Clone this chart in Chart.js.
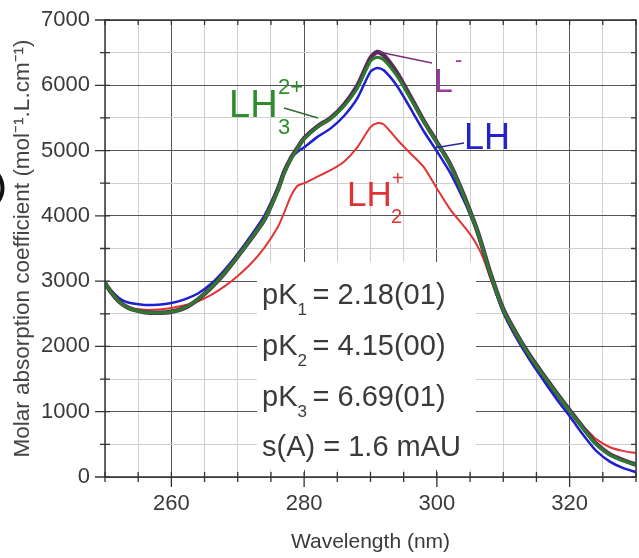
<!DOCTYPE html>
<html>
<head>
<meta charset="utf-8">
<script src="https://cdn.jsdelivr.net/npm/chart.js@4/dist/chart.umd.min.js"></script>
<style>
  html, body { margin: 0; padding: 0; background: #fff; }
  #chart { display: block; }
</style>
</head>
<body>
<canvas id="chart" width="639" height="558"></canvas>
<script>
// wavelength (nm)
const wavelengths = [250, 251, 252, 253, 254, 256, 258, 260, 262, 264, 266, 268, 270, 272, 274, 276, 277, 278, 279, 280,
    282, 284, 286, 288, 290, 291, 292, 294, 296, 298, 300, 302, 304, 305, 306, 307, 308, 310, 312, 314,
    316, 318, 320, 321, 322, 323, 324, 326, 328, 330];

// molar absorption coefficient of each species
const lh3Values = [2970, 2820, 2700, 2620, 2570, 2525, 2515, 2530, 2590, 2720, 2900, 3120, 3380, 3650, 3940, 4380, 4660, 4870, 5030, 5180,
    5360, 5490, 5680, 5950, 6370, 6430, 6390, 6140, 5800, 5450, 5120, 4780, 4320, 4060, 3790, 3470, 3130, 2560, 2180, 1850,
    1560, 1280, 1010, 880, 750, 620, 500, 340, 250, 185];
const lValues = [2970, 2820, 2700, 2620, 2570, 2525, 2515, 2530, 2590, 2720, 2900, 3120, 3380, 3650, 3940, 4390, 4670, 4880, 5040, 5190,
    5370, 5500, 5700, 5990, 6420, 6510, 6460, 6190, 5830, 5460, 5130, 4790, 4330, 4070, 3800, 3480, 3140, 2570, 2190, 1860,
    1570, 1290, 1020, 890, 760, 630, 510, 350, 260, 190];
const lhValues = [2970, 2850, 2750, 2690, 2660, 2635, 2640, 2665, 2720, 2810, 2960, 3170, 3420, 3700, 4000, 4430, 4710, 4880, 4980, 5050,
    5210, 5340, 5530, 5800, 6210, 6265, 6230, 5990, 5650, 5300, 4990, 4660, 4250, 4020, 3760, 3440, 3100, 2520, 2130, 1790,
    1490, 1200, 930, 790, 650, 520, 400, 240, 140, 75];
const lh2Values = [2970, 2800, 2680, 2610, 2580, 2560, 2565, 2590, 2630, 2690, 2790, 2920, 3080, 3270, 3510, 3820, 4050, 4300, 4460, 4500,
    4600, 4700, 4830, 5050, 5360, 5420, 5400, 5170, 4960, 4750, 4420, 4100, 3850, 3720, 3560, 3350, 3060, 2520, 2120, 1800,
    1520, 1250, 1000, 890, 780, 680, 580, 460, 400, 365];

const xTickLabels = [260, 280, 300, 320];
const yTickLabels = [0, 1000, 2000, 3000, 4000, 5000, 6000, 7000];

const pkIndexes = ['1', '2', '3'];
const pkResults = ['2.18(01)', '4.15(00)', '6.69(01)'];
const residual = '1.6 mAU';

const FONT = '"Liberation Sans", Arial, sans-serif';
const TEXT_COLOR = '#3a3a3a';

function toPoints(values) {
    return wavelengths.map((w, i) => ({ x: w, y: values[i] }));
}

function drawText(ctx, text, x, y, size, color) {
    ctx.font = `${size}px ${FONT}`;
    ctx.fillStyle = color;
    ctx.fillText(text, x, y);
    return x + ctx.measureText(text).width;
}

// white panel behind the fit results
const resultsPanel = {
    id: 'resultsPanel',
    beforeDatasetsDraw(chart) {
        const ctx = chart.ctx;
        ctx.save();
        ctx.fillStyle = '#fff';
        ctx.fillRect(257, 262, 219, 208);
        ctx.restore();
    },
};

// frame and crossing tick marks
const axisMarks = {
    id: 'axisMarks',
    afterDatasetsDraw(chart) {
        const { ctx, chartArea: a, scales: { x, y } } = chart;
        ctx.save();
        ctx.strokeStyle = '#333';
        ctx.lineWidth = 1.5;
        ctx.strokeRect(a.left, a.top, a.right - a.left, a.bottom - a.top);
        ctx.lineWidth = 1.3;
        ctx.beginPath();
        x.ticks.forEach(t => {
            const px = x.getPixelForValue(t.value);
            const major = xTickLabels.includes(t.value);
            ctx.moveTo(px, a.bottom - 5);
            ctx.lineTo(px, a.bottom + (major ? 10 : 5));
            ctx.moveTo(px, a.top);
            ctx.lineTo(px, a.top + 5);
        });
        y.ticks.forEach(t => {
            const py = y.getPixelForValue(t.value);
            const major = yTickLabels.includes(t.value);
            ctx.moveTo(a.left - (major ? 10 : 5), py);
            ctx.lineTo(a.left + 5, py);
            ctx.moveTo(a.right - 5, py);
            ctx.lineTo(a.right, py);
        });
        ctx.stroke();
        ctx.restore();
    },
};

// species labels, leader lines and fit results
const annotations = {
    id: 'annotations',
    afterDraw(chart) {
        const ctx = chart.ctx;
        ctx.save();
        ctx.textBaseline = 'alphabetic';
        ctx.textAlign = 'left';

        // leader lines
        ctx.lineWidth = 1.5;
        ctx.strokeStyle = '#2f6f2f';
        ctx.beginPath(); ctx.moveTo(284, 108); ctx.lineTo(318, 118); ctx.stroke();
        ctx.strokeStyle = '#7a2f7a';
        ctx.beginPath(); ctx.moveTo(432, 63); ctx.lineTo(379, 52); ctx.stroke();
        ctx.strokeStyle = '#2a2aa0';
        ctx.beginPath(); ctx.moveTo(464, 143); ctx.lineTo(434, 148); ctx.stroke();

        // LH3 2+
        const green = '#2e8b2e';
        drawText(ctx, 'LH', 229, 117, 38, green);
        drawText(ctx, '2+', 278, 94, 22, green);
        drawText(ctx, '3', 278, 134, 22, green);

        // L-
        const purple = '#983a98';
        drawText(ctx, 'L', 434, 92, 34, purple);
        drawText(ctx, '-', 455, 67, 22, purple);

        // LH
        drawText(ctx, 'LH', 464, 149, 36, '#2323c8');

        // LH2 +
        const red = '#dd3333';
        drawText(ctx, 'LH', 347, 206, 35, red);
        drawText(ctx, '+', 392, 185, 20, red);
        drawText(ctx, '2', 391, 223, 20, red);

        // fit results
        pkIndexes.forEach((idx, i) => {
            const base = 304 + i * 51;
            const x = drawText(ctx, 'pK', 262, base, 29, TEXT_COLOR);
            drawText(ctx, idx, x, base + 11, 17, TEXT_COLOR);
            drawText(ctx, ' = ' + pkResults[i], x + 7, base, 29, TEXT_COLOR);
        });
        drawText(ctx, 's(A) = ' + residual, 262, 456, 29, TEXT_COLOR);

        // cropped panel letter at the left edge
        ctx.textAlign = 'right';
        ctx.textBaseline = 'middle';
        ctx.font = `bold 30px ${FONT}`;
        ctx.fillStyle = '#111';
        ctx.fillText('b)', 6, 188);
        ctx.restore();
    },
};

new Chart(document.getElementById('chart'), {
    type: 'line',
    data: {
        datasets: [
            { label: 'LH3 2+', data: toPoints(lh3Values), borderColor: '#2b7d2b', borderWidth: 3 },
            { label: 'L-', data: toPoints(lValues), borderColor: '#5a2a5a', borderWidth: 4.5 },
            { label: 'LH', data: toPoints(lhValues), borderColor: '#1f1fd2', borderWidth: 2.5 },
            { label: 'LH2 +', data: toPoints(lh2Values), borderColor: '#e23434', borderWidth: 2 },
        ],
    },
    options: {
        responsive: false,
        animation: false,
        devicePixelRatio: 1,
        layout: { padding: { top: 20, right: 3, left: 0, bottom: 0 } },
        elements: {
            point: { radius: 0 },
            line: { tension: 0.25, fill: false },
        },
        plugins: {
            legend: { display: false },
            tooltip: { enabled: false },
        },
        scales: {
            x: {
                type: 'linear',
                min: 250,
                max: 330,
                afterFit: scale => {
                    scale.height = 81;
                    scale.paddingLeft = 0;
                    scale.paddingRight = 0;
                },
                ticks: {
                    stepSize: 5,
                    autoSkip: false,
                    maxRotation: 0,
                    padding: 14,
                    color: TEXT_COLOR,
                    font: { family: FONT, size: 22 },
                    callback: v => (xTickLabels.includes(v) ? String(v) : ''),
                },
                grid: {
                    drawTicks: false,
                    lineWidth: 1,
                    color: c => (xTickLabels.includes(c.tick && c.tick.value) ? '#555' : '#cfcfcf'),
                },
                border: { display: false },
                title: {
                    display: true,
                    text: 'Wavelength (nm)',
                    color: TEXT_COLOR,
                    font: { family: FONT, size: 21 },
                    padding: { top: 0, bottom: 3 },
                },
            },
            y: {
                min: 0,
                max: 7000,
                afterFit: scale => {
                    scale.width = 105;
                    scale.paddingTop = 0;
                    scale.paddingBottom = 0;
                },
                ticks: {
                    stepSize: 500,
                    autoSkip: false,
                    padding: 15,
                    color: TEXT_COLOR,
                    font: { family: FONT, size: 22 },
                    callback: v => (yTickLabels.includes(v) ? String(v) : ''),
                },
                grid: {
                    drawTicks: false,
                    lineWidth: 1,
                    color: c => (yTickLabels.includes(c.tick && c.tick.value) ? '#555' : '#cfcfcf'),
                },
                border: { display: false },
                title: {
                    display: true,
                    text: 'Molar absorption coefficient (mol\u207B\u00B9.L.cm\u207B\u00B9)',
                    color: '#444',
                    font: { family: FONT, size: 22.5 },
                    padding: { top: 9, bottom: 0 },
                },
            },
        },
    },
    plugins: [resultsPanel, axisMarks, annotations],
});
</script>
</body>
</html>
